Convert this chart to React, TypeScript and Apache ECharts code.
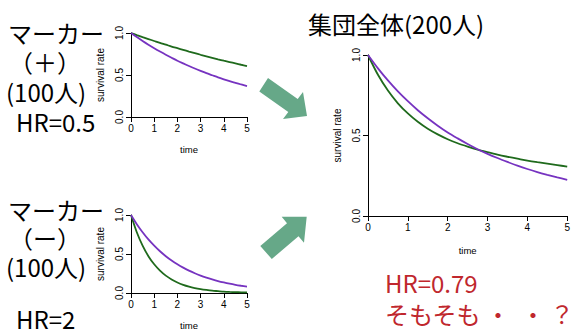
import React, { useEffect, useRef } from "react";
import * as echarts from "echarts";

const TIME = [0, 0.25, 0.5, 0.75, 1, 1.25, 1.5, 1.75, 2, 2.25, 2.5, 2.75, 3, 3.25, 3.5, 3.75, 4, 4.25, 4.5, 4.75, 5];

// Marker (+) group
const posGreen = [1.0, 0.975, 0.951, 0.928, 0.905, 0.882, 0.861, 0.839, 0.819, 0.799, 0.779, 0.76, 0.741, 0.723, 0.705, 0.687, 0.67, 0.654, 0.638, 0.622, 0.607];
const posPurple = [1.0, 0.951, 0.905, 0.861, 0.819, 0.779, 0.741, 0.705, 0.67, 0.638, 0.607, 0.577, 0.549, 0.522, 0.497, 0.472, 0.449, 0.427, 0.407, 0.387, 0.368];

// Marker (-) group
const negGreen = [1.0, 0.779, 0.607, 0.472, 0.368, 0.287, 0.223, 0.174, 0.135, 0.105, 0.082, 0.064, 0.05, 0.039, 0.03, 0.024, 0.018, 0.014, 0.011, 0.009, 0.007];
const negPurple = [1.0, 0.882, 0.779, 0.687, 0.607, 0.535, 0.472, 0.417, 0.368, 0.325, 0.287, 0.253, 0.223, 0.197, 0.174, 0.153, 0.135, 0.119, 0.105, 0.093, 0.082];

// Whole population
const allGreen = [1.0, 0.877, 0.779, 0.7, 0.637, 0.585, 0.542, 0.507, 0.477, 0.452, 0.431, 0.412, 0.396, 0.381, 0.368, 0.356, 0.344, 0.334, 0.325, 0.316, 0.307];
const allPurple = [1.0, 0.917, 0.842, 0.774, 0.713, 0.657, 0.607, 0.561, 0.519, 0.482, 0.447, 0.415, 0.386, 0.36, 0.336, 0.313, 0.292, 0.273, 0.256, 0.24, 0.225];

const X_TICKS = [0, 1, 2, 3, 4, 5];
const Y_TICKS = ["0.0", "0.5", "1.0"];

const GREEN = "#1f6a1c";
const PURPLE = "#7633c0";
const ARROW = "#66a888";
const RED = "#c0272d";
const AX_FONT = "'Liberation Sans', Arial, sans-serif";
const JP_FONT = "'Noto Sans CJK JP', 'Noto Sans', sans-serif";

const pairs = (vals: number[]) => vals.map((v, i) => [TIME[i], v]);

export default function App() {
  const ref = useRef<HTMLDivElement>(null);

  useEffect(() => {
    if (!ref.current) return;
    const chart = echarts.init(ref.current, undefined, { renderer: "svg" });

    const grids = [
      { left: 131, top: 33, width: 116, height: 84 },
      { left: 131, top: 215, width: 116, height: 83 },
      { left: 368, top: 55, width: 200, height: 161 },
    ];

    const xAxes = grids.map((_, i) => ({
      type: "value",
      gridIndex: i,
      min: 0,
      max: 5,
      interval: 1,
      name: "time",
      nameLocation: "middle",
      nameGap: i === 2 ? 29 : 27,
      nameTextStyle: { fontSize: 9.5, color: "#000", fontFamily: AX_FONT },
      axisLine: { show: true, lineStyle: { color: "#000", width: 1 } },
      axisTick: { show: true, length: 5, lineStyle: { color: "#000" } },
      axisLabel: {
        fontSize: 10,
        color: "#000",
        fontFamily: AX_FONT,
        margin: 6,
        formatter: (v: number) => (X_TICKS.includes(v) ? String(v) : ""),
      },
      splitLine: { show: false },
    }));

    const yAxes = grids.map((_, i) => ({
      type: "value",
      gridIndex: i,
      min: 0,
      max: 1,
      interval: 0.5,
      name: "survival rate",
      nameLocation: "middle",
      nameGap: 26,
      nameRotate: 90,
      nameTextStyle: { fontSize: 10, color: "#000", fontFamily: AX_FONT },
      axisLine: { show: true, lineStyle: { color: "#000", width: 1 } },
      axisTick: { show: true, length: 5, lineStyle: { color: "#000" } },
      axisLabel: {
        rotate: 90,
        fontSize: 10,
        color: "#000",
        fontFamily: AX_FONT,
        margin: 7,
        formatter: (v: number) => Y_TICKS[Math.round(v * 2)],
      },
      splitLine: { show: false },
    }));

    const line = (data: number[], color: string, idx: number) => ({
      type: "line",
      xAxisIndex: idx,
      yAxisIndex: idx,
      data: pairs(data),
      showSymbol: false,
      smooth: 0.3,
      lineStyle: { color, width: 1.8 },
      itemStyle: { color },
    });

    const txt = (text: string, x: number, y: number, size: number, color = "#000", align = "left") => ({
      type: "text",
      x,
      y,
      style: {
        text,
        fill: color,
        font: `${size}px ${JP_FONT}`,
        lineHeight: 22,
        textAlign: align,
        textVerticalAlign: "middle",
      },
    });

    const topArrow = [
      [268, 78], [297.7, 99], [303, 92], [307, 116], [283, 119], [288.3, 112], [259.3, 91.5],
    ];
    const bottomArrow = [
      [260.3, 246], [287, 223.2], [281.7, 216.7], [306.7, 216.7], [304, 242.7], [298.5, 236.2], [271.8, 259],
    ];

    chart.setOption({
      animation: false,
      backgroundColor: "#fff",
      grid: grids,
      xAxis: xAxes,
      yAxis: yAxes,
      series: [
        line(posGreen, GREEN, 0),
        line(posPurple, PURPLE, 0),
        line(negGreen, GREEN, 1),
        line(negPurple, PURPLE, 1),
        line(allGreen, GREEN, 2),
        line(allPurple, PURPLE, 2),
      ],
      graphic: [
        txt("マーカー", 8, 32, 24),
        txt("（＋）", 9, 61, 24),
        txt("(100人)", 6, 91, 24),
        txt("HR=0.5", 16, 121, 24),
        txt("マーカー", 8, 209, 24),
        txt("（ー）", 9, 237, 24),
        txt("(100人)", 6, 266, 24),
        txt("HR=2", 16, 318, 24),
        txt("集団全体(200人)", 308, 23, 24),
        txt("HR=0.79", 385, 282, 24, RED),
        txt("そもそも", 385, 313, 24, RED),
        txt("・", 498, 313, 24, RED, "center"),
        txt("・", 533, 313, 24, RED, "center"),
        txt("？", 562, 313, 24, RED, "center"),
        { type: "polygon", shape: { points: topArrow }, style: { fill: ARROW } },
        { type: "polygon", shape: { points: bottomArrow }, style: { fill: ARROW } },
      ],
    });

    return () => chart.dispose();
  }, []);

  return (
    <div
      ref={ref}
      style={{ position: "absolute", left: 0, top: 0, width: 573, height: 331 }}
    />
  );
}
